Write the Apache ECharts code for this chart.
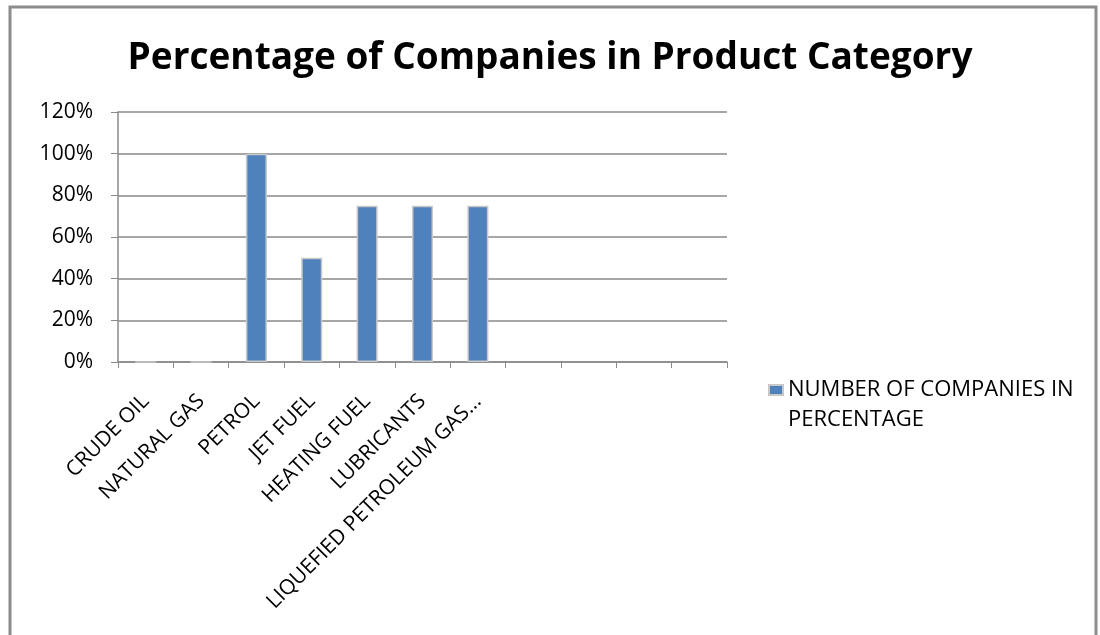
<!DOCTYPE html>
<html>
<head>
<meta charset="utf-8">
<script src="https://cdn.jsdelivr.net/npm/echarts@6/dist/echarts.min.js"></script>
<style>
html,body{margin:0;padding:0;background:#fff;}
#chart{width:1100px;height:635px;}
</style>
</head>
<body>
<div id="chart"></div>
<script>
const titleText = 'Percentage of Companies in Product Category';
const categories = ['CRUDE OIL','NATURAL GAS','PETROL','JET FUEL','HEATING FUEL','LUBRICANTS','LIQUEFIED PETROLEUM GAS...','','','',''];
const seriesName = 'NUMBER OF COMPANIES IN PERCENTAGE';
const legendLines = ['NUMBER OF COMPANIES IN', 'PERCENTAGE'];
const values = [0, 0, 1.00, 0.50, 0.75, 0.75, 0.75, null, null, null, null];
const yTicks = { min: 0, max: 1.2, interval: 0.2 };

const chart = echarts.init(document.getElementById('chart'), null, {renderer:'canvas'});
const font = 'Open Sans';
const gridColor = '#8a8a8a';
chart.setOption({
  backgroundColor: '#fff',
  animation: false,
  title: {
    text: titleText,
    left: 'center',
    top: 35,
    textStyle: { fontFamily: font, fontWeight: 'bold', fontSize: 37, color: '#000' }
  },
  legend: {
    data: [seriesName],
    orient: 'vertical',
    left: 763,
    top: 340,
    icon: 'rect',
    itemWidth: 14,
    itemHeight: 10,
    formatter: function () { return '\n' + legendLines.join('\n'); },
    textStyle: { fontFamily: font, fontSize: 22, color: '#000', lineHeight: 30 }
  },
  grid: { left: 118, right: 373, top: 112, bottom: 273, containLabel: false },
  xAxis: {
    type: 'category',
    data: categories,
    boundaryGap: true,
    axisLine: { show: true, lineStyle: { color: gridColor, width: 1.5 } },
    axisTick: { show: true, interval: 0, length: 6, lineStyle: { color: gridColor } },
    axisLabel: { interval: 0, rotate: 45, margin: 36, fontFamily: font, fontSize: 21, color: '#000' }
  },
  yAxis: {
    type: 'value',
    min: yTicks.min, max: yTicks.max, interval: yTicks.interval,
    axisLine: { show: true, lineStyle: { color: gridColor, width: 1.5 } },
    axisTick: { show: true, length: 7, lineStyle: { color: gridColor } },
    splitLine: { show: true, lineStyle: { color: gridColor, width: 1.5 } },
    axisLabel: { margin: 25, fontFamily: font, fontSize: 21, color: '#000',
      formatter: function (v) { return Math.round(v * 100) + '%'; } }
  },
  series: [{
    name: seriesName,
    type: 'bar',
    data: values,
    barWidth: '38%',
    itemStyle: { color: '#4F81BD', borderColor: '#c8c8c8', borderWidth: 1.5 }
  }],
  graphic: [{
    type: 'polyline',
    silent: true,
    shape: { points: [[10, 700], [10, 7], [1096, 7], [1096, 700]] },
    style: { stroke: '#8c8c8c', lineWidth: 3, fill: null }
  }]
});
</script>
</body>
</html>
